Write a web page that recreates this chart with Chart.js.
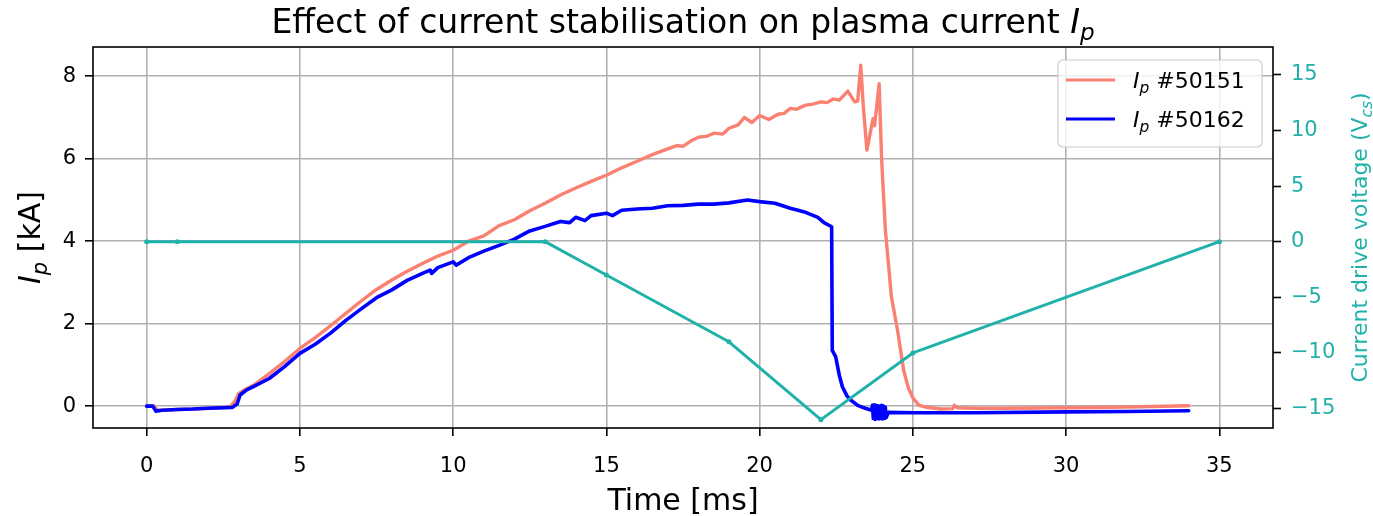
<!DOCTYPE html>
<html>
<head>
<meta charset="utf-8">
<script src="https://cdn.jsdelivr.net/npm/chart.js@4"></script>
<style>
  html, body { margin: 0; padding: 0; background: #fff; }
  #wrap { width: 1373px; height: 516px; }
</style>
</head>
<body>
<div id="wrap"><canvas id="ipChart" width="1373" height="516"></canvas></div>
<script>
// shot #50151 (salmon)
const time50151 = [0, 0.25, 0.35, 0.6, 1.0, 1.5, 2.0, 2.5, 2.75, 2.9, 3.0, 3.2, 3.5, 4.0, 4.5, 5.0, 5.5, 6.0, 6.5, 7.0, 7.5, 8.0, 8.5, 9.0, 9.5,
  10.0, 10.5, 11.0, 11.5, 12.0, 12.5, 13.0, 13.5, 14.0, 14.5, 15.0, 15.5, 16.0, 16.5, 17.0, 17.3, 17.5, 17.8, 18.0, 18.3, 18.5, 18.8, 19.0, 19.3, 19.5, 19.75,
  20.0, 20.3, 20.6, 20.8, 21.0, 21.2, 21.5, 21.7, 22.0, 22.2, 22.4, 22.6, 22.88, 23.1, 23.2, 23.3, 23.38, 23.5, 23.7, 23.75, 23.9, 23.98, 24.1, 24.3,
  24.5, 24.7, 24.85, 25.0, 25.2, 25.4, 25.9, 26.3, 26.35, 26.45, 27, 28, 30, 32, 34];
const current50151 = [0, 0, -0.1, -0.1, -0.08, -0.07, -0.05, -0.04, 0.0, 0.15, 0.3, 0.4, 0.51, 0.79, 1.08, 1.4, 1.66, 1.95, 2.25, 2.55, 2.83, 3.06, 3.27, 3.46, 3.64,
  3.78, 4.0, 4.13, 4.38, 4.52, 4.74, 4.92, 5.12, 5.29, 5.45, 5.6, 5.78, 5.94, 6.1, 6.24, 6.32, 6.3, 6.45, 6.52, 6.55, 6.62, 6.6, 6.74, 6.82, 7.0, 6.88,
  7.05, 6.95, 7.08, 7.1, 7.22, 7.2, 7.3, 7.32, 7.38, 7.36, 7.45, 7.42, 7.64, 7.38, 7.4, 8.27, 7.3, 6.21, 6.97, 6.8, 7.82, 6.0, 4.3, 2.65,
  1.84, 0.87, 0.45, 0.2, 0.02, -0.02, -0.07, -0.06, 0.02, -0.04, -0.05, -0.05, -0.04, -0.02, 0.01];

// shot #50162 (blue)
const time50162 = [0, 0.2, 0.3, 0.5, 1.0, 1.5, 2.0, 2.5, 2.8, 2.95, 3.05, 3.25, 3.5, 4.0, 4.5, 5.0, 5.5, 6.0, 6.5, 7.0, 7.5, 8.0, 8.5, 9.0, 9.25, 9.3, 9.5,
  10.0, 10.1, 10.5, 11.0, 11.5, 12.0, 12.5, 13.0, 13.5, 13.8, 14.0, 14.3, 14.5, 15.0, 15.2, 15.5, 16.0, 16.5, 17.0, 17.5, 18.0, 18.5, 19.0, 19.6,
  20.0, 20.5, 21.0, 21.5, 21.9, 22.1, 22.35, 22.37, 22.48, 22.6, 22.7, 22.85, 22.97, 23.2, 23.4, 23.65,
  23.68, 23.71, 23.74, 23.77, 23.8, 23.83, 23.86, 23.89, 23.92, 23.95, 23.98, 24.01, 24.04, 24.07, 24.1, 24.13,
  24.2, 25.0, 27, 30, 32, 34];
const current50162 = [0, 0, -0.12, -0.1, -0.08, -0.07, -0.05, -0.04, -0.03, 0.05, 0.27, 0.39, 0.48, 0.67, 0.96, 1.28, 1.5, 1.77, 2.08, 2.36, 2.63, 2.82, 3.05, 3.22, 3.3, 3.22, 3.36,
  3.5, 3.42, 3.6, 3.76, 3.9, 4.05, 4.25, 4.36, 4.48, 4.45, 4.58, 4.5, 4.62, 4.68, 4.62, 4.75, 4.78, 4.8, 4.86, 4.87, 4.9, 4.9, 4.93, 5.0,
  4.96, 4.92, 4.8, 4.7, 4.58, 4.45, 4.35, 1.35, 1.2, 0.75, 0.47, 0.25, 0.15, 0.02, -0.04, -0.1,
  0.02, -0.3, 0.03, -0.32, 0.02, -0.3, 0.01, -0.31, 0.0, -0.3, 0.02, -0.31, 0.0, -0.3, -0.02, -0.28,
  -0.15, -0.16, -0.16, -0.14, -0.13, -0.11];

// current drive voltage programme
const vcsTime = [0, 1, 13, 15, 19, 22, 25, 35];
const vcsVolt = [0, 0, 0, -3, -9, -16, -10, 0];

const xTicks = [0, 5, 10, 15, 20, 25, 30, 35];
const ipTicks = [0, 2, 4, 6, 8];
const vcsTicks = [-15, -10, -5, 0, 5, 10, 15];

const SALMON = '#fa8072';
const BLUE = '#0000ff';
const TEAL = '#20b2aa';
const FONT = "'DejaVu Sans', sans-serif";

function toXY(xs, ys) {
    return xs.map((x, i) => ({ x: x, y: ys[i] }));
}

// draws a run of text parts (normal / italic / subscript) centred on x
function drawRich(ctx, parts, x, y, size, color, align) {
    let total = 0;
    parts.forEach(p => {
        const s = p.sub ? size * 0.7 : size;
        ctx.font = (p.italic ? 'italic ' : '') + s + 'px ' + FONT;
        p.w = ctx.measureText(p.text).width;
        total += p.w;
    });
    let cx = align === 'left' ? x : x - total / 2;
    ctx.fillStyle = color;
    ctx.textBaseline = 'alphabetic';
    ctx.textAlign = 'left';
    parts.forEach(p => {
        const s = p.sub ? size * 0.7 : size;
        ctx.font = (p.italic ? 'italic ' : '') + s + 'px ' + FONT;
        ctx.fillText(p.text, cx, y + (p.sub ? size * 0.22 : 0));
        cx += p.w;
    });
}

const decorPlugin = {
    id: 'decor',
    afterDatasetsDraw(chart) {
        const ctx = chart.ctx;
        const a = chart.chartArea;
        ctx.save();
        ctx.strokeStyle = '#000';
        ctx.lineWidth = 1.6;
        ctx.strokeRect(a.left, a.top, a.right - a.left, a.bottom - a.top);
        ctx.restore();
    },
    afterDraw(chart) {
        const ctx = chart.ctx;
        const a = chart.chartArea;
        ctx.save();

        // title
        drawRich(ctx, [
            { text: 'Effect of current stabilisation on plasma current ' },
            { text: 'I', italic: true },
            { text: 'p', italic: true, sub: true }
        ], (a.left + a.right) / 2, 33, 33, '#000');

        // x label
        drawRich(ctx, [{ text: 'Time [ms]' }], (a.left + a.right) / 2, 510, 30, '#000');

        // left y label
        ctx.save();
        ctx.translate(40, (a.top + a.bottom) / 2);
        ctx.rotate(-Math.PI / 2);
        drawRich(ctx, [
            { text: 'I', italic: true },
            { text: 'p', italic: true, sub: true },
            { text: ' [kA]' }
        ], 0, 0, 30, '#000');
        ctx.restore();

        // right y label
        ctx.save();
        ctx.translate(1367, (a.top + a.bottom) / 2);
        ctx.rotate(-Math.PI / 2);
        drawRich(ctx, [
            { text: 'Current drive voltage (V' },
            { text: 'cs', italic: true, sub: true },
            { text: ')' }
        ], 0, 0, 22, TEAL);
        ctx.restore();

        // legend
        const lx = 1058, ly = 60, lw = 204, lh = 87, r = 5;
        ctx.beginPath();
        ctx.moveTo(lx + r, ly);
        ctx.arcTo(lx + lw, ly, lx + lw, ly + lh, r);
        ctx.arcTo(lx + lw, ly + lh, lx, ly + lh, r);
        ctx.arcTo(lx, ly + lh, lx, ly, r);
        ctx.arcTo(lx, ly, lx + lw, ly, r);
        ctx.closePath();
        ctx.fillStyle = 'rgba(255,255,255,0.8)';
        ctx.fill();
        ctx.strokeStyle = '#cccccc';
        ctx.lineWidth = 1.2;
        ctx.stroke();

        const entries = [
            { color: SALMON, shot: ' #50151', y: 80 },
            { color: BLUE, shot: ' #50162', y: 119 }
        ];
        entries.forEach(e => {
            ctx.beginPath();
            ctx.moveTo(1066, e.y);
            ctx.lineTo(1115, e.y);
            ctx.strokeStyle = e.color;
            ctx.lineWidth = 3.2;
            ctx.stroke();
            drawRich(ctx, [
                { text: 'I', italic: true },
                { text: 'p', italic: true, sub: true },
                { text: e.shot }
            ], 1133, e.y + 8, 22, '#000', 'left');
        });

        ctx.restore();
    }
};

const tickFont = { family: FONT, size: 21 };

new Chart(document.getElementById('ipChart'), {
    type: 'line',
    data: {
        datasets: [{
            label: 'Ip #50151',
            data: toXY(time50151, current50151),
            borderColor: SALMON,
            borderWidth: 3.4,
            pointRadius: 0,
            yAxisID: 'y',
            order: 2
        }, {
            label: 'Ip #50162',
            data: toXY(time50162, current50162),
            borderColor: BLUE,
            borderWidth: 3.6,
            pointRadius: 0,
            yAxisID: 'y',
            order: 1
        }, {
            label: 'Vcs',
            data: toXY(vcsTime, vcsVolt),
            borderColor: TEAL,
            backgroundColor: TEAL,
            borderWidth: 3,
            pointRadius: 2.5,
            pointBorderWidth: 0,
            yAxisID: 'y2',
            order: 0
        }]
    },
    options: {
        responsive: false,
        animation: false,
        devicePixelRatio: 1,
        layout: { padding: { top: 47, left: 0, right: 0, bottom: 0 } },
        elements: { line: { tension: 0, borderJoinStyle: 'round', borderCapStyle: 'round' } },
        plugins: { legend: { display: false }, title: { display: false }, tooltip: { enabled: false } },
        scales: {
            x: {
                type: 'linear',
                min: -1.75,
                max: 36.75,
                afterBuildTicks: s => { s.ticks = xTicks.map(v => ({ value: v })); },
                afterFit: s => { s.height = 88; },
                grid: { color: '#b0b0b0', lineWidth: 1.6, tickColor: '#000', tickLength: 8, tickWidth: 1.6 },
                border: { display: false },
                ticks: { font: tickFont, color: '#000', padding: 18, maxRotation: 0 }
            },
            y: {
                position: 'left',
                min: -0.53,
                max: 8.71,
                afterBuildTicks: s => { s.ticks = ipTicks.map(v => ({ value: v })); },
                afterFit: s => { s.width = 93; },
                grid: { color: '#b0b0b0', lineWidth: 1.6, tickColor: '#000', tickLength: 8, tickWidth: 1.6 },
                border: { display: false },
                ticks: { font: tickFont, color: '#000', padding: 9 }
            },
            y2: {
                position: 'right',
                min: -16.75,
                max: 17.5,
                afterBuildTicks: s => { s.ticks = vcsTicks.map(v => ({ value: v })); },
                afterFit: s => { s.width = 100; },
                grid: { drawOnChartArea: false, tickColor: '#000', tickLength: 8, tickWidth: 1.6 },
                border: { display: false },
                ticks: {
                    font: tickFont,
                    color: TEAL,
                    padding: 10,
                    callback: v => v < 0 ? '\u2212' + Math.abs(v) : String(v)
                }
            }
        }
    },
    plugins: [decorPlugin]
});
</script>
</body>
</html>
